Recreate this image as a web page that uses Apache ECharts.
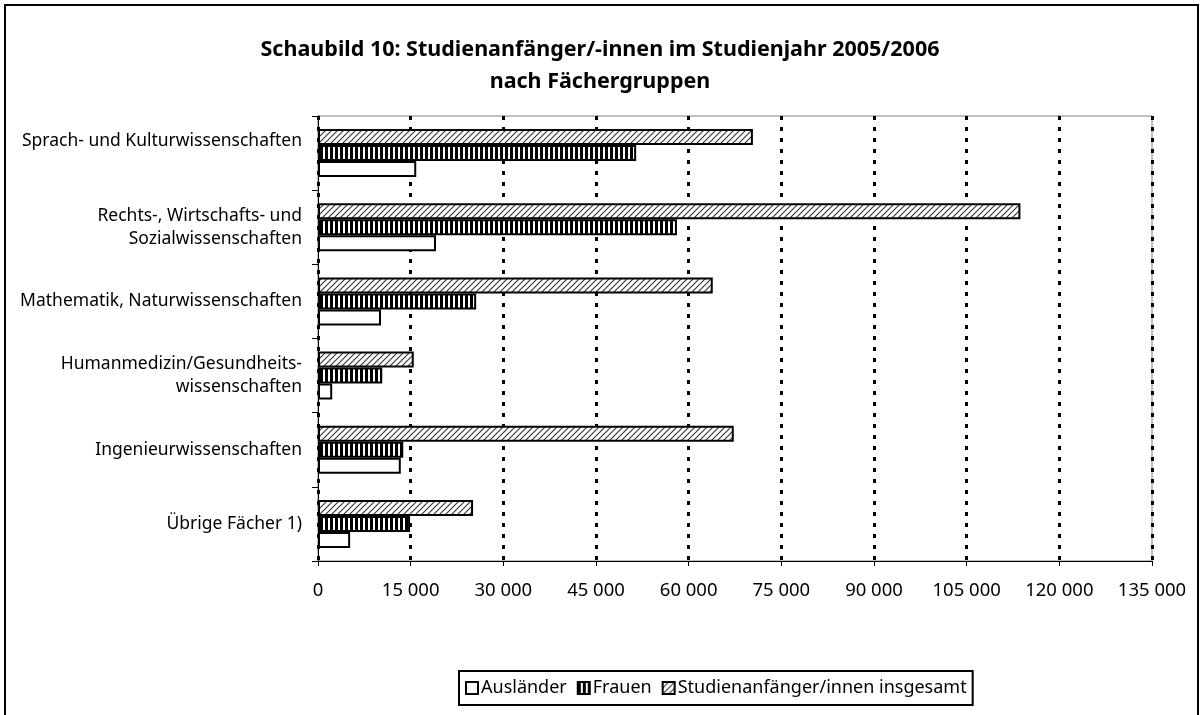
<!DOCTYPE html>
<html>
<head>
<meta charset="utf-8">
<script src="https://cdn.jsdelivr.net/npm/echarts@6/dist/echarts.min.js"></script>
<style>
html,body{margin:0;padding:0;background:#fff;}
#chart{width:1200px;height:715px;}
</style>
</head>
<body>
<div id="chart"></div>
<script>
const titleText = 'Schaubild 10: Studienanfänger/-innen im Studienjahr 2005/2006\nnach Fächergruppen';
const categories = [
  'Sprach- und Kulturwissenschaften',
  'Rechts-, Wirtschafts- und\nSozialwissenschaften',
  'Mathematik, Naturwissenschaften',
  'Humanmedizin/Gesundheits-\nwissenschaften',
  'Ingenieurwissenschaften',
  'Übrige Fächer 1)'
];
const seriesNames = ['Ausländer', 'Frauen', 'Studienanfänger/innen insgesamt'];
const auslaender = [15900, 19100, 10200, 2300, 13400, 5200];
const frauen = [51500, 58100, 25600, 10400, 13800, 14900];
const insgesamt = [70400, 113700, 63900, 15500, 67300, 25100];
const xMin = 0, xMax = 135000, xStep = 15000;

const FONT = 'Noto Sans';

function hatchPattern() {
  const c = document.createElement('canvas');
  c.width = 6; c.height = 6;
  const g = c.getContext('2d');
  g.fillStyle = '#fff'; g.fillRect(0, 0, 6, 6);
  g.strokeStyle = '#333'; g.lineWidth = 1.1;
  g.beginPath();
  g.moveTo(0, 6); g.lineTo(6, 0);
  g.moveTo(-1, 1); g.lineTo(1, -1);
  g.moveTo(5, 7); g.lineTo(7, 5);
  g.stroke();
  return c;
}
function stripePattern() {
  const c = document.createElement('canvas');
  c.width = 5; c.height = 5;
  const g = c.getContext('2d');
  g.fillStyle = '#000'; g.fillRect(0, 0, 5, 5);
  g.fillStyle = '#fff'; g.fillRect(3, 0, 2, 5);
  return c;
}

const styles = [
  { color: '#fff', borderColor: '#000', borderWidth: 2 },
  { color: { image: stripePattern(), repeat: 'repeat' }, borderColor: '#000', borderWidth: 2 },
  { color: { image: hatchPattern(), repeat: 'repeat' }, borderColor: '#000', borderWidth: 2 }
];
const dataArr = [auslaender, frauen, insgesamt];

// draw order so that total is top, Frauen middle, Ausländer bottom
const order = [2, 1, 0];
const series = order.map(i => ({
  name: seriesNames[i],
  type: 'bar',
  data: dataArr[i],
  barWidth: 16,
  barGap: '0%',
  itemStyle: styles[i],
  emphasis: { disabled: true },
  animation: false
}));

const chart = echarts.init(document.getElementById('chart'), null, { renderer: 'canvas' });
chart.setOption({
  animation: false,
  backgroundColor: '#fff',
  textStyle: { fontFamily: FONT, color: '#000' },
  title: {
    text: titleText,
    left: 'center',
    top: 29,
    textStyle: { fontFamily: FONT, fontSize: 21.5, fontWeight: 'bold', color: '#000', lineHeight: 32 }
  },
  legend: {
    data: seriesNames,
    left: 459,
    top: 671,
    orient: 'horizontal',
    icon: 'rect',
    itemWidth: 12,
    itemHeight: 12,
    itemGap: 10,
    padding: [8, 6],
    borderColor: '#000',
    borderWidth: 2,
    backgroundColor: '#fff',
    textStyle: { fontFamily: FONT, fontSize: 18, color: '#000', padding: [0, 0, 0, -2] }
  },
  graphic: [{
    type: 'rect',
    shape: { x: 5, y: 5, width: 1193, height: 730 },
    style: { fill: 'none', stroke: '#000', lineWidth: 2 },
    silent: true, z: -1
  }],
  grid: {
    left: 318, right: 48, top: 116, bottom: 154,
    show: true, borderColor: '#808080', borderWidth: 1, backgroundColor: 'transparent'
  },
  xAxis: {
    type: 'value',
    min: xMin, max: xMax, interval: xStep,
    axisLine: { show: true, lineStyle: { color: '#000', width: 1 } },
    axisTick: { show: true, length: 5, lineStyle: { color: '#000' } },
    axisLabel: {
      fontFamily: FONT, fontSize: 18.5, color: '#000', margin: 20,
      formatter: v => v === 0 ? '0' : String(v).replace(/\B(?=(\d{3})+(?!\d))/g, ' ')
    },
    splitLine: { show: true, lineStyle: { color: '#000', width: 3, type: [4, 7] } }
  },
  yAxis: {
    type: 'category',
    inverse: true,
    data: categories,
    axisLine: { show: true, lineStyle: { color: '#000', width: 1 } },
    axisTick: { show: true, length: 6, inside: false, lineStyle: { color: '#000' } },
    axisLabel: {
      fontFamily: FONT, fontSize: 17.5, color: '#000', margin: 16, lineHeight: 23, align: 'right',
      formatter: (v, i) => i === 0 ? '{up|' + v + '}' : v,
      rich: { up: { fontFamily: FONT, fontSize: 17.5, color: '#000', padding: [0, 0, 24, 0] } }
    },
    splitLine: { show: false }
  },
  series: series
});
</script>
</body>
</html>
